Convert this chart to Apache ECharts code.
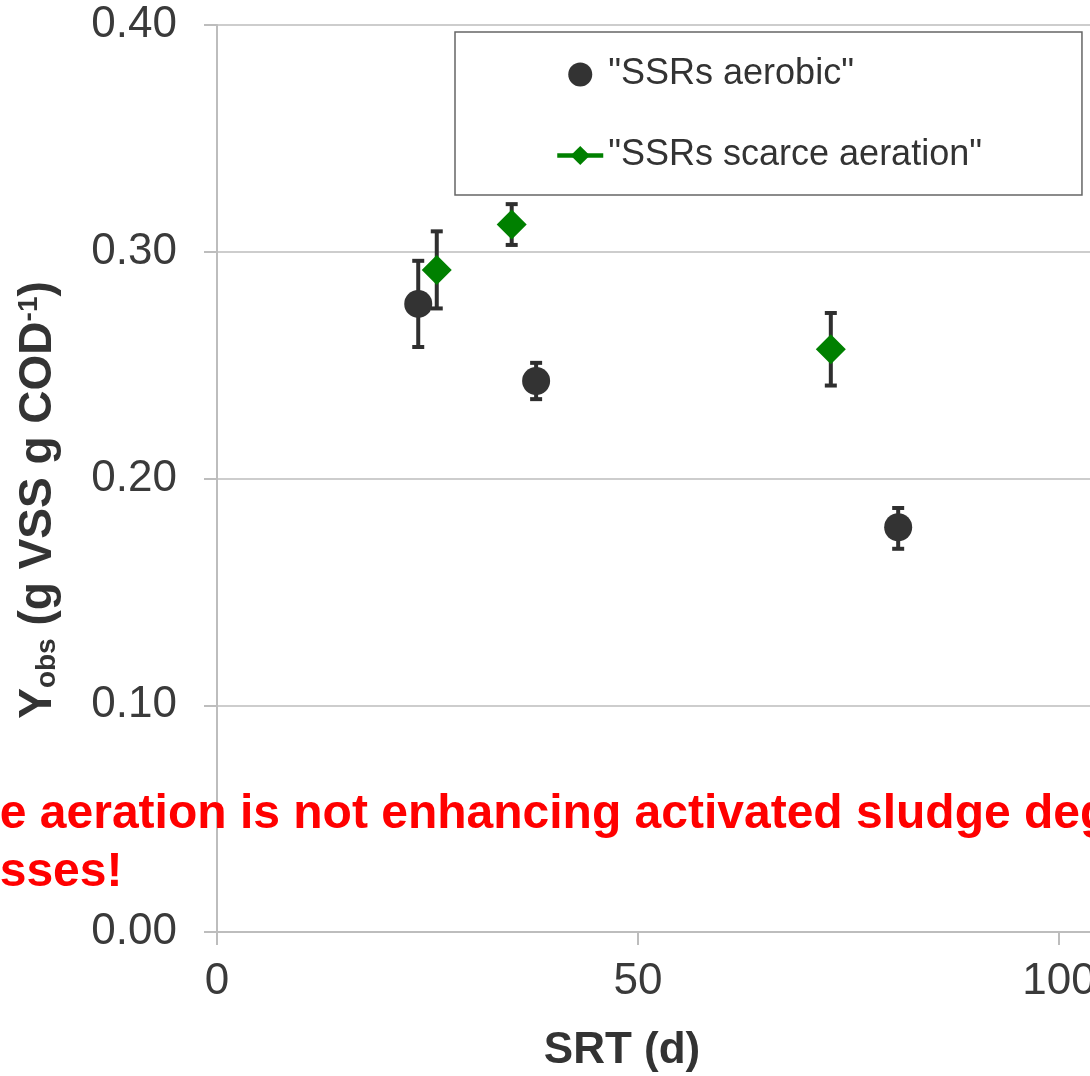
<!DOCTYPE html>
<html><head><meta charset="utf-8">
<script src="https://cdn.jsdelivr.net/npm/echarts@6/dist/echarts.min.js"></script>
<style>
html,body{margin:0;padding:0;overflow:hidden;background:#fff;width:1090px;height:1076px}
#c{position:absolute;left:0;top:0;width:1560px;height:1076px}
</style></head>
<body><div id="c"></div>
<script>
// ---- data ----
const seriesNames = ['"SSRs aerobic"', '"SSRs scarce aeration"'];
const aerobicSRT  = [23.9, 37.9, 80.9];
const aerobicY    = [0.277, 0.243, 0.1785];
const aerobicLow  = [0.258, 0.235, 0.169];
const aerobicHigh = [0.296, 0.251, 0.187];
const scarceSRT   = [26.1, 35.0, 72.9];
const scarceY     = [0.292, 0.312, 0.257];
const scarceLow   = [0.275, 0.303, 0.241];
const scarceHigh  = [0.309, 0.321, 0.273];
const yTickLabels = ['0.00', '0.10', '0.20', '0.30', '0.40'];
const xTickLabels = ['0', '50', '100', '150'];
const xAxisTitle = 'SRT (d)';
const noteLine1 = 'Scarce aeration is not enhancing activated sludge degradation';
const noteLine2 = 'processes!';

const FONT = 'Liberation Sans, Arial, sans-serif';
const aerobicData = aerobicSRT.map((x, i) => [x, aerobicY[i]]);
const scarceData = scarceSRT.map((x, i) => [x, scarceY[i]]);
const errData = aerobicSRT.map((x, i) => [x, aerobicLow[i], aerobicHigh[i]])
  .concat(scarceSRT.map((x, i) => [x, scarceLow[i], scarceHigh[i]]));

const chart = echarts.init(document.getElementById('c'), null, {renderer: 'canvas'});
const axisGrey = '#bdbdbd';
chart.setOption({
  animation: false,
  backgroundColor: '#fff',
  grid: {left: 217, top: 25, right: 80, bottom: 144, containLabel: false, outerBoundsMode: 'none'},
  xAxis: {
    type: 'value', min: 0, max: 150, interval: 50,
    axisLine: {show: true, lineStyle: {color: axisGrey, width: 2}},
    axisTick: {show: true, length: 13, lineStyle: {color: axisGrey, width: 2}},
    splitLine: {show: false},
    axisLabel: {fontFamily: FONT, fontSize: 44, color: '#3a3a3a', margin: 28,
      formatter: v => xTickLabels[Math.round(v / 50)] || ''}
  },
  yAxis: {
    type: 'value', min: 0, max: 0.4, interval: 0.1,
    axisLine: {show: true, lineStyle: {color: axisGrey, width: 2}},
    axisTick: {show: true, length: 13, lineStyle: {color: axisGrey, width: 2}},
    splitLine: {show: true, lineStyle: {color: axisGrey, width: 1.5}},
    axisLabel: {fontFamily: FONT, fontSize: 44, color: '#3a3a3a', margin: 40,
      formatter: v => yTickLabels[Math.round(v * 10)] || ''}
  },
  legend: {
    orient: 'vertical', left: 455, top: 32,
    padding: [22, 100, 19, 100],
    itemGap: 40, itemWidth: 46, itemHeight: 24,
    borderColor: '#666', borderWidth: 1.5, backgroundColor: '#fff',
    textStyle: {fontFamily: FONT, fontSize: 36, color: '#333', lineHeight: 41},
    data: [
      {name: seriesNames[0], icon: 'circle', itemStyle: {opacity: 1}},
      {name: seriesNames[1], lineStyle: {color: '#008000', width: 4.5, opacity: 1}}
    ]
  },
  series: [
    {
      type: 'custom', name: 'err', z: 1, silent: true,
      data: errData,
      encode: {x: 0, y: [1, 2]},
      renderItem: function (params, api) {
        const x = api.value(0), lo = api.value(1), hi = api.value(2);
        const pLo = api.coord([x, lo]), pHi = api.coord([x, hi]);
        const w = 6;
        const st = {stroke: '#2f2f2f', lineWidth: 4};
        return {type: 'group', children: [
          {type: 'line', shape: {x1: pLo[0], y1: pLo[1], x2: pHi[0], y2: pHi[1]}, style: st},
          {type: 'line', shape: {x1: pLo[0] - w, y1: pLo[1], x2: pLo[0] + w, y2: pLo[1]}, style: st},
          {type: 'line', shape: {x1: pHi[0] - w, y1: pHi[1], x2: pHi[0] + w, y2: pHi[1]}, style: st}
        ]};
      }
    },
    {
      type: 'scatter', name: seriesNames[0], z: 3,
      symbol: 'circle', symbolSize: 28,
      itemStyle: {color: '#333333', opacity: 1},
      data: aerobicData
    },
    {
      type: 'line', name: seriesNames[1], z: 3,
      symbol: 'diamond', symbolSize: 30, showSymbol: true, showAllSymbol: true,
      itemStyle: {color: '#008000', opacity: 1},
      lineStyle: {color: '#008000', width: 4, opacity: 0},
      data: scarceData
    }
  ],
  graphic: [
    {
      type: 'text', x: 38, y: 500, rotation: Math.PI / 2, z: 10,
      style: {
        text: '{a|Y}{s|obs}{a| (g VSS g COD}{p|-1}{a|)}',
        align: 'center', verticalAlign: 'middle',
        rich: {
          a: {fontFamily: FONT, fontWeight: 'bold', fontSize: 46, lineHeight: 46, fill: '#333', verticalAlign: 'middle'},
          s: {fontFamily: FONT, fontWeight: 'bold', fontSize: 28, lineHeight: 28, fill: '#333', verticalAlign: 'bottom'},
          p: {fontFamily: FONT, fontWeight: 'bold', fontSize: 28, lineHeight: 28, fill: '#333', verticalAlign: 'top'}
        }
      }
    },
    {
      type: 'text', x: 622, y: 1051, z: 10,
      style: {text: xAxisTitle, fontFamily: FONT, fontWeight: 'bold', fontSize: 44, fill: '#333',
        align: 'center', verticalAlign: 'middle'}
    },
    {
      type: 'text', x: -131, y: 786, z: 20,
      style: {text: noteLine1 + '\n' + noteLine2, fontFamily: FONT, fontWeight: 'bold', fontSize: 48,
        lineHeight: 58, fill: '#ff0000', align: 'left', verticalAlign: 'top'}
    }
  ]
});
</script>
</body></html>
